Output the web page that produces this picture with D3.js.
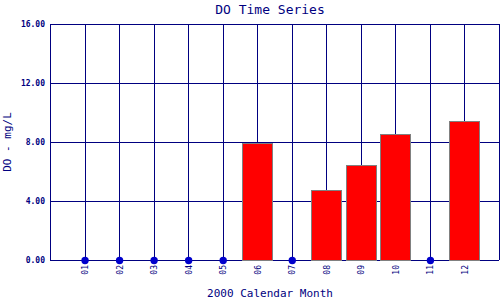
<!DOCTYPE html>
<html><head><meta charset="utf-8">
<script src="https://cdn.jsdelivr.net/npm/d3@7"></script>
<style>body{margin:0;background:#fff}svg{display:block}</style>
</head><body><svg id="c" width="500" height="300"></svg>
<script>
const months = ["01","02","03","04","05","06","07","08","09","10","11","12"];
const doValues = [null,null,null,null,null,7.93,null,4.72,6.42,8.52,null,9.4];
const yTicks = [0,4,8,12,16];
const title = "DO Time Series";
const xTitle = "2000 Calendar Month";
const yTitle = "DO - mg/L";

const W=500,H=300,m={l:50,r:1,t:24,b:40};
const svg=d3.select("#c");
const navy="#000080", font="'DejaVu Sans Mono', monospace";
const x=d3.scaleLinear().domain([0,months.length+1]).range([m.l,W-m.r]);
const y=d3.scaleLinear().domain([0,16]).range([H-m.b,m.t]);
const g=svg.append("g");
// grid
g.selectAll(".hg").data(yTicks).join("line")
 .attr("x1",m.l).attr("x2",W-m.r).attr("y1",d=>Math.round(y(d))+0.5).attr("y2",d=>Math.round(y(d))+0.5)
 .attr("stroke",navy).attr("stroke-width",1);
g.selectAll(".vg").data(months).join("line")
 .attr("x1",(d,i)=>Math.round(x(i+1))+0.5).attr("x2",(d,i)=>Math.round(x(i+1))+0.5)
 .attr("y1",m.t).attr("y2",H-m.b).attr("stroke",navy);
[m.l, W-m.r].forEach(v=>g.append("line").attr("x1",Math.round(v)+0.5).attr("x2",Math.round(v)+0.5)
 .attr("y1",m.t).attr("y2",H-m.b).attr("stroke",navy));
// bars
const bw=30;
g.selectAll(".bar").data(doValues.map((v,i)=>({v,i})).filter(d=>d.v!=null)).join("rect")
 .attr("x",d=>Math.round(x(d.i+1)-bw/2)+0.5).attr("width",bw)
 .attr("y",d=>Math.round(y(d.v))+0.5).attr("height",d=>Math.round(y(0))-Math.round(y(d.v)))
 .attr("fill","#ff0000").attr("stroke","#808080").attr("stroke-width",1);
// dots
g.selectAll(".dot").data(doValues.map((v,i)=>({v,i})).filter(d=>d.v==null)).join("circle")
 .attr("cx",d=>x(d.i+1)+0.5).attr("cy",y(0)+0.5).attr("r",3.7).attr("fill","#0000cc");
// y ticks
g.selectAll(".yt").data(yTicks).join("text")
 .attr("x",m.l-5).attr("y",d=>y(d)+3).attr("text-anchor","end")
 .attr("font-family",font).attr("font-size",8).attr("font-weight","bold").attr("fill",navy)
 .text(d=>d.toFixed(2));
// x ticks
g.selectAll(".xt").data(months).join("text")
 .attr("transform",(d,i)=>`translate(${x(i+1)+3.5},${H-m.b+5}) rotate(-90)`)
 .attr("text-anchor","end").attr("font-family",font).attr("font-size",8).attr("fill",navy)
 .text(d=>d);
svg.append("text").attr("x",270).attr("y",14).attr("text-anchor","middle")
 .attr("font-family",font).attr("font-size",13).attr("fill",navy).text(title);
svg.append("text").attr("x",270).attr("y",297).attr("text-anchor","middle")
 .attr("font-family",font).attr("font-size",11).attr("fill",navy).text(xTitle);
svg.append("text").attr("transform","translate(11,142) rotate(-90)").attr("text-anchor","middle")
 .attr("font-family",font).attr("font-size",11).attr("fill",navy).text(yTitle);
</script></body></html>
